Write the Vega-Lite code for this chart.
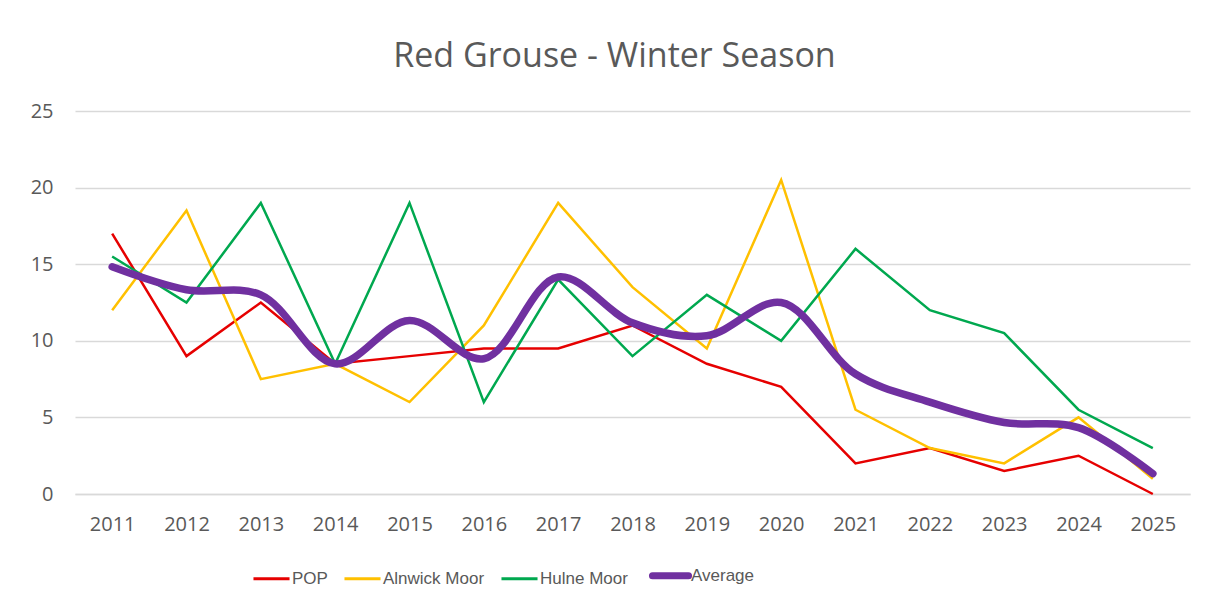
{
  "$schema": "https://vega.github.io/schema/vega-lite/v6.json",
  "width": 1115,
  "height": 383,
  "autosize": {"type": "none"},
  "padding": {"left": 75, "top": 111, "right": 18, "bottom": 113},
  "background": "white",
  "title": {
    "text": "Red Grouse - Winter Season",
    "fontSize": 34,
    "font": "Open Sans",
    "fontWeight": "normal",
    "color": "#595959",
    "anchor": "middle",
    "dx": -18,
    "offset": 27
  },
  "config": {
    "view": {"stroke": null},
    "font": "Open Sans"
  },
  "data": {
    "values": [
      {"year": "2011", "series": "POP", "value": 17},
      {"year": "2012", "series": "POP", "value": 9},
      {"year": "2013", "series": "POP", "value": 12.5},
      {"year": "2014", "series": "POP", "value": 8.5},
      {"year": "2015", "series": "POP", "value": 9},
      {"year": "2016", "series": "POP", "value": 9.5},
      {"year": "2017", "series": "POP", "value": 9.5},
      {"year": "2018", "series": "POP", "value": 11},
      {"year": "2019", "series": "POP", "value": 8.5},
      {"year": "2020", "series": "POP", "value": 7},
      {"year": "2021", "series": "POP", "value": 2},
      {"year": "2022", "series": "POP", "value": 3},
      {"year": "2023", "series": "POP", "value": 1.5},
      {"year": "2024", "series": "POP", "value": 2.5},
      {"year": "2025", "series": "POP", "value": 0},
      {"year": "2011", "series": "Alnwick Moor", "value": 12},
      {"year": "2012", "series": "Alnwick Moor", "value": 18.5},
      {"year": "2013", "series": "Alnwick Moor", "value": 7.5},
      {"year": "2014", "series": "Alnwick Moor", "value": 8.5},
      {"year": "2015", "series": "Alnwick Moor", "value": 6},
      {"year": "2016", "series": "Alnwick Moor", "value": 11},
      {"year": "2017", "series": "Alnwick Moor", "value": 19},
      {"year": "2018", "series": "Alnwick Moor", "value": 13.5},
      {"year": "2019", "series": "Alnwick Moor", "value": 9.5},
      {"year": "2020", "series": "Alnwick Moor", "value": 20.5},
      {"year": "2021", "series": "Alnwick Moor", "value": 5.5},
      {"year": "2022", "series": "Alnwick Moor", "value": 3},
      {"year": "2023", "series": "Alnwick Moor", "value": 2},
      {"year": "2024", "series": "Alnwick Moor", "value": 5},
      {"year": "2025", "series": "Alnwick Moor", "value": 1},
      {"year": "2011", "series": "Hulne Moor", "value": 15.5},
      {"year": "2012", "series": "Hulne Moor", "value": 12.5},
      {"year": "2013", "series": "Hulne Moor", "value": 19},
      {"year": "2014", "series": "Hulne Moor", "value": 8.5},
      {"year": "2015", "series": "Hulne Moor", "value": 19},
      {"year": "2016", "series": "Hulne Moor", "value": 6},
      {"year": "2017", "series": "Hulne Moor", "value": 14},
      {"year": "2018", "series": "Hulne Moor", "value": 9},
      {"year": "2019", "series": "Hulne Moor", "value": 13},
      {"year": "2020", "series": "Hulne Moor", "value": 10},
      {"year": "2021", "series": "Hulne Moor", "value": 16},
      {"year": "2022", "series": "Hulne Moor", "value": 12},
      {"year": "2023", "series": "Hulne Moor", "value": 10.5},
      {"year": "2024", "series": "Hulne Moor", "value": 5.5},
      {"year": "2025", "series": "Hulne Moor", "value": 3},
      {"year": "2011", "series": "Average", "value": 14.83},
      {"year": "2012", "series": "Average", "value": 13.33},
      {"year": "2013", "series": "Average", "value": 13},
      {"year": "2014", "series": "Average", "value": 8.5},
      {"year": "2015", "series": "Average", "value": 11.33},
      {"year": "2016", "series": "Average", "value": 8.83},
      {"year": "2017", "series": "Average", "value": 14.17},
      {"year": "2018", "series": "Average", "value": 11.17},
      {"year": "2019", "series": "Average", "value": 10.33},
      {"year": "2020", "series": "Average", "value": 12.5},
      {"year": "2021", "series": "Average", "value": 7.83},
      {"year": "2022", "series": "Average", "value": 6},
      {"year": "2023", "series": "Average", "value": 4.67},
      {"year": "2024", "series": "Average", "value": 4.33},
      {"year": "2025", "series": "Average", "value": 1.33}
    ]
  },
  "encoding": {
    "x": {
      "field": "year",
      "type": "ordinal",
      "scale": {"type": "point", "padding": 0.5},
      "axis": {
        "title": null,
        "labelAngle": 0,
        "labelFontSize": 20,
        "labelColor": "#595959",
        "labelPadding": 20,
        "ticks": false,
        "domain": true,
        "domainColor": "#d9d9d9",
        "domainWidth": 1.5,
        "grid": false
      }
    },
    "y": {
      "field": "value",
      "type": "quantitative",
      "scale": {"domain": [0, 25], "nice": false},
      "axis": {
        "title": null,
        "values": [0, 5, 10, 15, 20, 25],
        "labelFontSize": 20,
        "labelColor": "#595959",
        "labelPadding": 22,
        "ticks": false,
        "domain": false,
        "grid": true,
        "gridColor": "#d9d9d9",
        "gridWidth": 1.5
      }
    },
    "color": {
      "field": "series",
      "type": "nominal",
      "scale": {
        "domain": ["POP", "Alnwick Moor", "Hulne Moor", "Average"],
        "range": ["#e60000", "#ffc000", "#00a84f", "#7030a0"]
      },
      "legend": {
        "title": null,
        "orient": "none",
        "direction": "horizontal",
        "legendX": 188,
        "legendY": 456,
        "padding": 0,
        "symbolType": "stroke",
        "symbolSize": 1300,
        "symbolStrokeWidth": 3,
        "labelFont": "Liberation Sans",
        "labelFontSize": 17,
        "labelColor": "#595959",
        "labelOffset": 12,
        "columnPadding": 10,
        "symbolOpacity": 1,
        "encode": {
          "symbols": {
            "update": {
              "size": {"value": 1300},
              "strokeWidth": {"signal": "datum.label === 'Average' ? 7 : 3"},
              "strokeCap": {"signal": "datum.label === 'Average' ? 'round' : 'butt'"}
            }
          }
        }
      }
    }
  },
  "layer": [
    {
      "transform": [{"filter": "datum.series !== 'Average'"}],
      "mark": {"type": "line", "strokeWidth": 2.5, "strokeJoin": "miter", "strokeCap": "butt"}
    },
    {
      "transform": [{"filter": "datum.series === 'Average'"}],
      "mark": {"type": "line", "strokeWidth": 7.5, "interpolate": "catmull-rom", "strokeCap": "round", "strokeJoin": "round"}
    }
  ]
}
